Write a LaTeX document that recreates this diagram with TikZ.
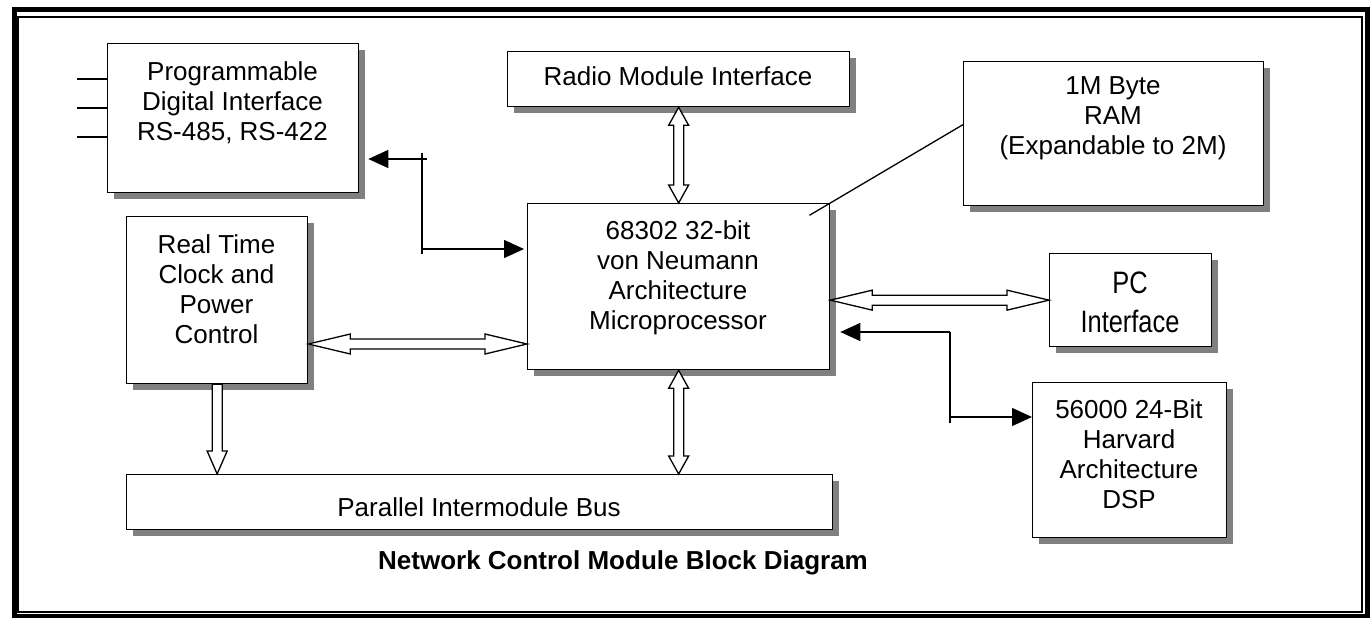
\documentclass[tikz,border=0pt]{standalone}
\usepackage{fontspec}
\setmainfont{Liberation Sans}
\newfontfamily\narrowsans[FakeStretch=0.82]{Liberation Sans}
\usetikzlibrary{arrows.meta,calc,shadows}

\begin{document}
\begin{tikzpicture}[
    x=1pt, y=-1pt,
    >={Triangle[length=20pt,width=18pt]},
    fat len/.store in=\fatlen,
    fat len=18pt,
    box/.style={
        draw=black,
        line width=1.3pt,
        fill=white,
        inner sep=0pt,
        anchor=north west,
        general shadow={fill=black!50, shadow xshift=6pt, shadow yshift=-6pt}
    },
    txt/.style={
        align=center,
        inner sep=0pt,
        font=\fontsize{26}{30}\selectfont
    },
    link/.style={
        ->,
        line width=1.3pt
    },
    wire/.style={
        line width=1.3pt
    },
    fat/.style={
        draw=black, line width=1.3pt, fill=white,
        to path={
            -- ($(\tikztostart)!\fatlen!(\tikztotarget)!10pt!90:(\tikztotarget)$)
            -- ($(\tikztostart)!\fatlen!(\tikztotarget)!5pt!90:(\tikztotarget)$)
            -- ($(\tikztotarget)!\fatlen!(\tikztostart)!5pt!-90:(\tikztostart)$)
            -- ($(\tikztotarget)!\fatlen!(\tikztostart)!10pt!-90:(\tikztostart)$)
            -- (\tikztotarget)
            -- ($(\tikztotarget)!\fatlen!(\tikztostart)!10pt!90:(\tikztostart)$)
            -- ($(\tikztotarget)!\fatlen!(\tikztostart)!5pt!90:(\tikztostart)$)
            -- ($(\tikztostart)!\fatlen!(\tikztotarget)!5pt!-90:(\tikztotarget)$)
            -- ($(\tikztostart)!\fatlen!(\tikztotarget)!10pt!-90:(\tikztotarget)$)
            -- cycle}
    },
    fatone/.style={
        draw=black, line width=1.3pt, fill=white,
        to path={
            -- ($(\tikztostart)!5pt!90:(\tikztotarget)$)
            -- ($(\tikztotarget)!\fatlen!(\tikztostart)!5pt!-90:(\tikztostart)$)
            -- ($(\tikztotarget)!\fatlen!(\tikztostart)!10pt!-90:(\tikztostart)$)
            -- (\tikztotarget)
            -- ($(\tikztotarget)!\fatlen!(\tikztostart)!10pt!90:(\tikztostart)$)
            -- ($(\tikztotarget)!\fatlen!(\tikztostart)!5pt!90:(\tikztostart)$)
            -- ($(\tikztostart)!5pt!-90:(\tikztotarget)$)
            -- cycle}
    }
]
\useasboundingbox (0,0) rectangle (1371,618);

% Frame
\draw[line width=5pt] (14,10) rectangle (1367,616);
\draw[line width=1.5pt] (18,17) rectangle (1362,612);

% Boxes
\node[box, minimum width=251pt, minimum height=149pt] (prog) at (107,43) {};
\node[box, minimum width=342pt, minimum height=55pt] (radio) at (507,51) {};
\node[box, minimum width=300pt, minimum height=144pt] (ram) at (963,61) {};
\node[box, minimum width=302pt, minimum height=166pt] (micro) at (527,203) {};
\node[box, minimum width=181pt, minimum height=167pt] (rtc) at (126,216) {};
\node[box, minimum width=162pt, minimum height=93pt] (pc) at (1049,253) {};
\node[box, minimum width=194pt, minimum height=155pt] (dsp) at (1032,382) {};
\node[box, minimum width=706pt, minimum height=55pt] (bus) at (126,474) {};

% Texts
\node[txt] (progtxt) at (232.5,103) {Programmable\\Digital Interface\\RS-485, RS-422};
\node[txt] (radiotxt) at (678,76) {Radio Module Interface};
\node[txt] (ramtxt) at (1113,118.5) {1M Byte\\RAM\\(Expandable to 2M)};
\node[txt] (microtxt) at (678,278) {68302 32-bit\\von Neumann\\Architecture\\Microprocessor};
\node[txt] (rtctxt) at (216.5,289) {Real Time\\Clock and\\Power\\Control};
\node[txt, font=\narrowsans\fontsize{31}{39}\selectfont] (pctxt) at (1130,302) {PC\\Interface};
\node[txt] (dsptxt) at (1129,454.5) {56000 24-Bit\\Harvard\\Architecture\\DSP};
\node[txt] (bustxt) at (479,507) {Parallel Intermodule Bus};
\node[txt, font=\fontsize{26}{30}\selectfont\bfseries] (title) at (623,563) {Network Control Module Block Diagram};

% Bus arrows
\coordinate (row1) at (0,344);
\draw[fat] (radio.south) to (micro.north);
\draw[fat, fat len=42pt] (rtc.east |- row1) to (micro.west |- row1);
\draw[fat, fat len=42pt] (micro.east |- pc.west) to (pc.west);
\draw[fatone, fat len=23pt] (rtc.south) to (rtc.south |- bus.north);
\draw[fat] (micro.south) to (micro.south |- bus.north);

% Lines to the interface
\foreach \y in {79,108,137}
    \draw[wire] (prog.west |- 0,\y) -- ++(-30,0);

% Elbow links
\coordinate (k1) at (422,159);
\coordinate (k2) at (422,249);
\draw[link] ([xshift=5pt]k1) -- ([xshift=9pt]prog.east |- k1);
\draw[link] (k2) -- ([xshift=-3pt]micro.west |- k2);
\draw[wire] ([yshift=6pt]k1) -- ([yshift=-5pt]k2);

\coordinate (k3) at (950,332);
\coordinate (k4) at (950,417);
\draw[link] (k3) -- ([xshift=10pt]micro.east |- k3);
\draw[link] (k4) -- (dsp.west |- k4);
\draw[wire] (k3) -- ([yshift=-6pt]k4);

% RAM line
\draw[wire] ([yshift=9pt]ram.west) -- ($([yshift=9pt]ram.west)!1.157!(micro.north east)$);

\end{tikzpicture}
\end{document}
